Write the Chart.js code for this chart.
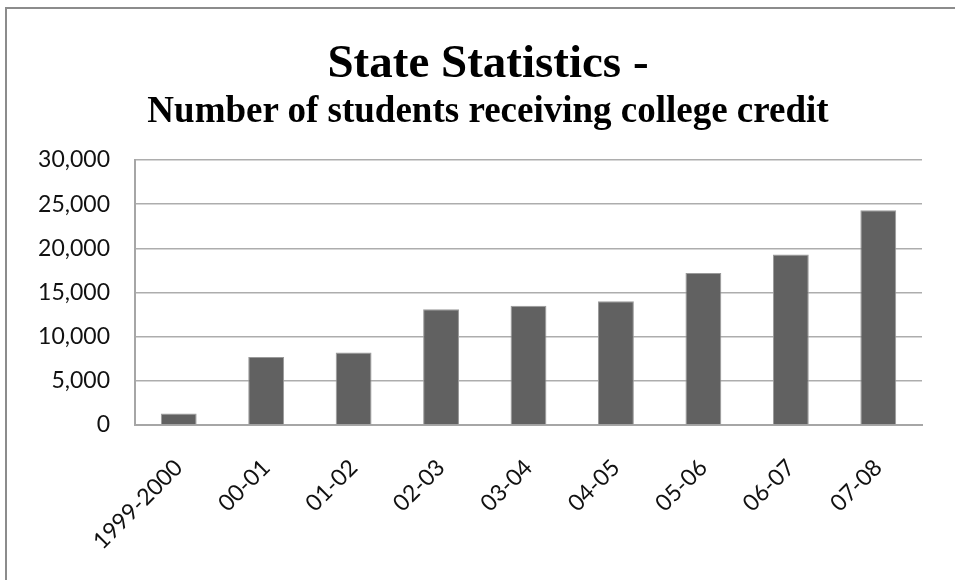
<!DOCTYPE html>
<html lang="en">
<head>
    <meta charset="UTF-8">
    <title>State Statistics</title>
    <script src="https://cdn.jsdelivr.net/npm/chart.js"></script>
    <style>
        body { margin: 0; overflow: hidden; background: #fff; }
        #frame {
            position: absolute; left: 5px; top: 7px; width: 1200px; height: 900px;
            border-left: 2px solid #8c8c8c; border-top: 2px solid #8c8c8c;
        }
        #studentChart { position: absolute; left: 0; top: 0; }
        .ttl {
            position: absolute; left: 0; width: 976px; text-align: center;
            font-family: 'Liberation Serif', serif; font-weight: bold; color: #000;
            white-space: nowrap;
        }
        #title { top: 38px; font-size: 47px; line-height: 47px; }
        #subtitle { top: 91px; font-size: 37px; line-height: 37px; }
    </style>
</head>
<body>
    <div id="frame"></div>
    <canvas id="studentChart" width="955" height="580"></canvas>
    <div class="ttl" id="title"></div>
    <div class="ttl" id="subtitle"></div>

    <script>
        var chartTitle = 'State Statistics -';
        var chartSubtitle = 'Number of students receiving college credit';
        var years = ['1999-2000', '00-01', '01-02', '02-03', '03-04', '04-05', '05-06', '06-07', '07-08'];
        var students = [1300, 7700, 8200, 13100, 13500, 14000, 17200, 19300, 24300];
        var yMin = 0, yMax = 30000, yStep = 5000;

        // titles as page text: the original centres them on a frame wider than the window
        document.getElementById('title').textContent = chartTitle;
        document.getElementById('subtitle').textContent = chartSubtitle;

        var ctx = document.getElementById('studentChart').getContext('2d');

        var studentChart = new Chart(ctx, {
            type: 'bar',
            data: {
                labels: years,
                datasets: [{
                    data: students,
                    backgroundColor: '#616161',
                    borderColor: '#9a9a9a',
                    borderWidth: 1,
                    categoryPercentage: 1,
                    barPercentage: 0.41
                }]
            },
            options: {
                responsive: false,
                animation: false,
                layout: { padding: { top: 160, right: 33, bottom: 0, left: 0 } },
                plugins: {
                    legend: { display: false },
                    tooltip: { enabled: false }
                },
                scales: {
                    x: {
                        grid: { display: false, drawTicks: false },
                        border: { display: true, color: '#a6a6a6', width: 2 },
                        ticks: {
                            color: '#111',
                            font: { family: 'Lato', size: 23 },
                            maxRotation: 45,
                            minRotation: 45,
                            autoSkip: false,
                            padding: 29
                        },
                        afterFit: function (scale) { scale.height = 155; }
                    },
                    y: {
                        min: yMin,
                        max: yMax,
                        grid: { color: '#adadad', lineWidth: 1.5, drawTicks: false },
                        border: { display: true, color: '#a6a6a6', width: 2 },
                        ticks: {
                            stepSize: yStep,
                            color: '#111',
                            font: { family: 'Lato', size: 23 },
                            padding: 25,
                            callback: function (v) { return v.toLocaleString('en-US'); }
                        },
                        afterFit: function (scale) { scale.width = 135; }
                    }
                }
            }
        });
    </script>
</body>
</html>
